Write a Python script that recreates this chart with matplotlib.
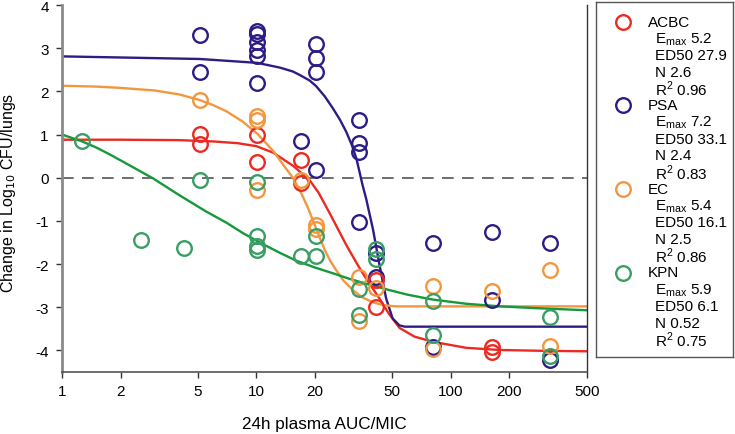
import matplotlib
matplotlib.use("Agg")
import matplotlib.pyplot as plt
from matplotlib.ticker import FixedLocator, FixedFormatter, NullLocator

plt.rcParams['font.family'] = ['Liberation Sans', 'DejaVu Sans']

# ---------------- data ----------------
acbc_x = [5.1, 5.1, 10.1, 10.1, 16.9, 16.9, 41, 41, 162, 162]
acbc_y = [1.02, 0.77, 0.99, 0.36, 0.42, -0.13, -2.37, -3.0, -3.92, -4.03]

psa_x = [5.1, 5.1, 10.1, 10.1, 10.1, 10.1, 10.1, 10.1, 16.9, 20.3, 20.3, 20.3, 20.3,
         33.6, 33.6, 33.6, 33.6, 41, 41, 81.4, 81.4, 162, 162, 324, 324]
psa_y = [3.31, 2.44, 3.39, 3.33, 3.14, 2.95, 2.82, 2.20, 0.86, 3.10, 2.77, 2.44, 0.17,
         1.33, 0.80, 0.59, -1.03, -1.74, -2.29, -1.52, -3.91, -1.25, -2.83, -1.51, -4.22]

ec_x = [5.1, 10.1, 10.1, 10.1, 16.9, 20.3, 20.3, 33.6, 33.6, 41, 81.4, 81.4, 162, 324, 324]
ec_y = [1.79, 1.43, 1.33, -0.29, -0.05, -1.09, -1.19, -2.31, -3.31, -2.55, -2.50, -3.97,
        -2.62, -2.14, -3.90]

kpn_x = [1.27, 2.54, 4.23, 5.1, 10.1, 10.1, 10.1, 10.1, 16.9, 20.3, 20.3, 33.6, 33.6,
         41, 41, 81.4, 81.4, 324, 324]
kpn_y = [0.86, -1.45, -1.62, -0.06, -0.11, -1.35, -1.58, -1.67, -1.82, -1.34, -1.82,
         -2.57, -3.18, -1.64, -1.89, -2.86, -3.65, -3.22, -4.12]

# fitted curves
acbc_fx = [1, 2, 4, 6, 8, 10, 12.2, 15.4, 18.8, 20.9, 24, 29, 33, 36.7, 43, 48, 54.5,
           65, 80.7, 120, 178, 300, 500]
acbc_fy = [0.88, 0.88, 0.87, 0.84, 0.80, 0.73, 0.58, 0.28, -0.06, -0.35, -0.85, -1.56,
           -2.0, -2.34, -2.80, -3.15, -3.48, -3.68, -3.80, -3.94, -3.99, -4.01, -4.02]

psa_fx = [1, 5.1, 10.1, 13.2, 15.4, 16.7, 18.8, 20.3, 22.5, 24.8, 27, 29, 31, 32.7, 35.2,
          36.7, 39.8, 43, 46.5, 50.2, 54.4, 58, 500]
psa_fy = [2.81, 2.75, 2.66, 2.55, 2.46, 2.38, 2.25, 2.12, 1.88, 1.60, 1.33, 1.06, 0.75,
          0.44, -0.18, -0.49, -1.20, -2.03, -2.80, -3.26, -3.42, -3.45, -3.45]

ec_fx = [1, 1.5, 2, 3, 4, 5.1, 6, 7, 8.5, 10.1, 12.2, 14, 15.4, 17.1, 18.5, 19.5, 21,
         22.5, 24, 25.8, 28, 31.3, 35, 40, 45, 52, 500]
ec_fy = [2.13, 2.11, 2.08, 2.02, 1.93, 1.80, 1.68, 1.54, 1.30, 1.02, 0.62, 0.25, 0.0,
         -0.38, -0.72, -0.98, -1.35, -1.68, -1.93, -2.15, -2.38, -2.60, -2.77, -2.89,
         -2.95, -2.98, -2.98]

kpn_fx = [1, 1.27, 1.5, 1.76, 2.2, 2.95, 4.03, 5.5, 7, 8.5, 10.4, 13.2, 16, 20, 25, 30,
          37, 48, 60, 80, 120, 180, 270, 500]
kpn_fy = [1.0, 0.84, 0.70, 0.54, 0.30, -0.02, -0.41, -0.78, -1.04, -1.28, -1.50, -1.74,
          -1.92, -2.08, -2.22, -2.34, -2.46, -2.60, -2.71, -2.82, -2.92, -2.98, -3.02,
          -3.07]

xticks = [1, 2, 5, 10, 20, 50, 100, 200, 500]
xtick_labels = ['1', '2', '5', '10', '20', '50', '100', '200', '500']
yticks = [-4, -3, -2, -1, 0, 1, 2, 3, 4]

legend_names = ['ACBC', 'PSA', 'EC', 'KPN']
legend_emax = ['5.2', '7.2', '5.4', '5.9']
legend_ed50 = ['27.9', '33.1', '16.1', '6.1']
legend_n = ['2.6', '2.4', '2.5', '0.52']
legend_r2 = ['0.96', '0.83', '0.86', '0.75']

# ---------------- style ----------------
c_red = '#EC2A22'
c_blue = '#2C1D86'
c_orange = '#F2973F'
c_green_pt = '#3A9E64'
c_green_ln = '#16993A'

fig = plt.figure(figsize=(7.35, 4.35), dpi=100)
ax = fig.add_axes([62 / 735, 62 / 435, (586.7 - 62) / 735, (373 - 6) / 435])

ax.set_xscale('log')
ax.set_xlim(1, 500)
ax.set_ylim(-4.5, 4)

ax.axhline(0, color='#555555', lw=1.2, ls=(0, (7, 5)), zorder=1)

lw = 1.7
ax.plot(acbc_fx, acbc_fy, color=c_red, lw=lw, zorder=2)
ax.plot(psa_fx, psa_fy, color=c_blue, lw=lw, zorder=2)
ax.plot(ec_fx, ec_fy, color=c_orange, lw=lw, zorder=2)
ax.plot(kpn_fx, kpn_fy, color=c_green_ln, lw=lw, zorder=2)

ms = 10.5
mew = 1.7
for xs, ys, col in [(psa_x, psa_y, c_blue), (acbc_x, acbc_y, c_red),
                    (ec_x, ec_y, c_orange), (kpn_x, kpn_y, c_green_pt)]:
    ax.plot(xs, ys, 'o', ms=ms, mfc='none', mec=col, mew=mew, zorder=3, ls='none')

ax.xaxis.set_major_locator(FixedLocator(xticks))
ax.xaxis.set_major_formatter(FixedFormatter(xtick_labels))
ax.xaxis.set_minor_locator(NullLocator())
ax.set_yticks(yticks)
ax.set_yticklabels([str(v) for v in yticks])
ax.tick_params(direction='out', length=4.5, width=1, labelsize=11, colors='#333333',
               labelcolor='black')
ax.tick_params(axis='x', pad=4)
ax.tick_params(axis='y', pad=5)

ax.spines['top'].set_visible(False)
ax.spines['left'].set_color('#8a8a8a')
ax.spines['left'].set_linewidth(2)
ax.spines['bottom'].set_color('#555555')
ax.spines['bottom'].set_linewidth(1.2)
ax.spines['right'].set_color('#333333')
ax.spines['right'].set_linewidth(1)

ax.set_xlabel('24h plasma AUC/MIC', fontsize=12.3, labelpad=13)
ax.set_ylabel('Change in Log$_{10}$ CFU/lungs', fontsize=11.5)
ax.yaxis.set_label_coords(-0.083, 0.49)

# ---------------- legend box ----------------
lax = fig.add_axes([596 / 735, 77 / 435, (733 - 596) / 735, (358 - 3) / 435])
lax.set_xlim(596, 733)
lax.set_ylim(358, 3)
lax.set_xticks([])
lax.set_yticks([])
for s in lax.spines.values():
    s.set_color('#555555')
    s.set_linewidth(1)

cols = [c_red, c_blue, c_orange, c_green_pt]
pitch = 16.72
y0 = 22.7
fs = 11
for i in range(4):
    yb = y0 + i * 5 * pitch
    lax.plot([623.3], [yb], 'o', ms=ms, mfc='none', mec=cols[i], mew=mew, clip_on=False)
    lax.text(647.5, yb, legend_names[i], fontsize=fs, va='center', ha='left')
    lax.text(655, yb + pitch, 'E$_{\\mathregular{max}}$ ' + legend_emax[i], fontsize=fs,
             va='center', ha='left')
    lax.text(655, yb + 2 * pitch, 'ED50 ' + legend_ed50[i], fontsize=fs, va='center',
             ha='left')
    lax.text(655, yb + 3 * pitch, 'N ' + legend_n[i], fontsize=fs, va='center', ha='left')
    lax.text(655, yb + 4 * pitch, 'R$^{\\mathregular{2}}$ ' + legend_r2[i], fontsize=fs,
             va='center', ha='left')

fig.savefig('out.png', dpi=100)
